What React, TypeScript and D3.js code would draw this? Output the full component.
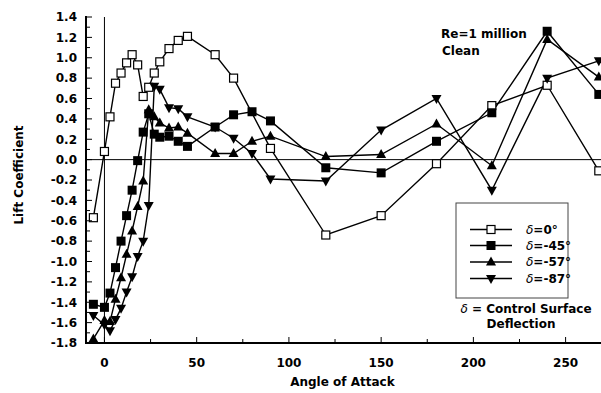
import React from "react";
import * as d3 from "d3";

const alphaA = [-6, 0, 3, 6, 9, 12, 15, 18, 21, 24, 27, 30, 35, 40, 45, 60, 70, 90, 120, 150, 180, 210, 240, 268];
const cl0 = [-0.57, 0.08, 0.42, 0.75, 0.85, 0.95, 1.03, 0.93, 0.62, 0.71, 0.85, 0.96, 1.09, 1.17, 1.21, 1.03, 0.80, 0.11, -0.74, -0.55, -0.04, 0.53, 0.73, -0.11];

const alphaB = [-6, 0, 3, 6, 9, 12, 15, 18, 21, 24, 27, 30, 35, 40, 45, 60, 70, 80, 90, 120, 150, 180, 210, 240, 268];
const cl45 = [-1.42, -1.45, -1.31, -1.06, -0.80, -0.55, -0.30, -0.01, 0.27, 0.45, 0.25, 0.22, 0.23, 0.18, 0.13, 0.32, 0.44, 0.47, 0.38, -0.08, -0.13, 0.18, 0.46, 1.26, 0.64];
const cl57 = [-1.76, -1.58, -1.59, -1.37, -1.16, -0.93, -0.70, -0.46, -0.21, 0.49, 0.42, 0.36, 0.31, 0.32, 0.26, 0.06, 0.06, 0.18, 0.23, 0.03, 0.05, 0.35, -0.06, 1.18, 0.81];
const cl87 = [-1.53, -1.62, -1.68, -1.57, -1.46, -1.30, -1.15, -0.95, -0.80, -0.45, 0.72, 0.69, 0.51, 0.50, 0.42, 0.32, 0.21, 0.06, -0.19, -0.21, 0.29, 0.60, -0.30, 0.80, 0.97];

const xTicks = [0, 50, 100, 150, 200, 250];
const yTicks = [1.4, 1.2, 1.0, 0.8, 0.6, 0.4, 0.2, 0.0, -0.2, -0.4, -0.6, -0.8, -1.0, -1.2, -1.4, -1.6, -1.8];
const legendLabels = ["δ=0°", "δ=-45°", "δ=-57°", "δ=-87°"];

type Kind = "openSquare" | "square" | "tri" | "invTri";

const series: { xs: number[]; ys: number[]; kind: Kind }[] = [
  { xs: alphaA, ys: cl0, kind: "openSquare" },
  { xs: alphaB, ys: cl45, kind: "square" },
  { xs: alphaB, ys: cl57, kind: "tri" },
  { xs: alphaB, ys: cl87, kind: "invTri" },
];

const FONT = "'DejaVu Sans', Verdana, sans-serif";
const FS = 12;

function Marker({ kind, x, y }: { kind: Kind; x: number; y: number }) {
  if (kind === "openSquare")
    return <rect x={x - 4} y={y - 4} width={8} height={8} fill="white" stroke="black" strokeWidth={1.2} />;
  if (kind === "square") return <rect x={x - 4.5} y={y - 4.5} width={9} height={9} fill="black" />;
  if (kind === "tri")
    return <path d={`M${x},${y - 5.5}L${x + 5},${y + 3.5}L${x - 5},${y + 3.5}Z`} fill="black" />;
  return <path d={`M${x},${y + 5.5}L${x + 5},${y - 3.5}L${x - 5},${y - 3.5}Z`} fill="black" />;
}

function Delta() {
  return (
    <tspan fontStyle="italic" fontWeight="normal" fontFamily="'DejaVu Sans', sans-serif" fontSize={12}>
      δ
    </tspan>
  );
}

export default function App() {
  const W = 601;
  const H = 393;
  const x = d3.scaleLinear().domain([-10, 270]).range([86, 602.5]);
  const y = d3.scaleLinear().domain([-1.8, 1.4]).range([343, 17]);
  const line = d3
    .line<[number, number]>()
    .x((d) => x(d[0]))
    .y((d) => y(d[1]));

  const minorX = d3.range(25, 270, 50);
  const minorY = d3.range(-17, 14, 2).map((v) => v / 10);

  const legX = 456;
  const legY = 203;
  const rowYs = [229.5, 245.5, 262, 278.5];

  return (
    <svg
      width={W}
      height={H}
      style={{ position: "absolute", left: 0, top: 0, background: "white" }}
      fontFamily={FONT}
    >
      <defs>
        <clipPath id="plot">
          <rect x={86} y={0} width={W - 86} height={343} />
        </clipPath>
      </defs>
      {/* reference lines */}
      <line x1={x(0)} x2={x(0)} y1={17} y2={343} stroke="black" strokeWidth={1} />
      <line x1={86} x2={W} y1={y(0)} y2={y(0)} stroke="black" strokeWidth={1} />

      {/* series */}
      <g clipPath="url(#plot)">
        {series.map((s, i) => (
          <path
            key={i}
            d={line(s.xs.map((v, j) => [v, s.ys[j]] as [number, number])) || ""}
            fill="none"
            stroke="black"
            strokeWidth={1.4}
          />
        ))}
        {series.map((s, i) =>
          s.xs.map((v, j) => <Marker key={`${i}-${j}`} kind={s.kind} x={x(v)} y={y(s.ys[j])} />)
        )}
      </g>

      {/* axes */}
      <line x1={86} x2={86} y1={16} y2={344} stroke="black" strokeWidth={2} />
      <line x1={85} x2={W} y1={343} y2={343} stroke="black" strokeWidth={2} />
      {yTicks.map((t) => (
        <g key={`y${t}`}>
          <line x1={86} x2={92} y1={y(t)} y2={y(t)} stroke="black" strokeWidth={1} />
          <text x={77} y={y(t)} dy="0.36em" textAnchor="end" fontSize={FS} fontWeight="bold">
            {t.toFixed(1)}
          </text>
        </g>
      ))}
      {minorY.map((t) => (
        <line key={`my${t}`} x1={86} x2={90} y1={y(t)} y2={y(t)} stroke="black" strokeWidth={1} />
      ))}
      {xTicks.map((t) => (
        <g key={`x${t}`}>
          <line x1={x(t)} x2={x(t)} y1={343} y2={337} stroke="black" strokeWidth={1} />
          <text x={x(t)} y={367} textAnchor="middle" fontSize={FS} fontWeight="bold">
            {t}
          </text>
        </g>
      ))}
      {minorX.map((t) => (
        <line key={`mx${t}`} x1={x(t)} x2={x(t)} y1={343} y2={339} stroke="black" strokeWidth={1} />
      ))}

      <text x={x(129)} y={386} textAnchor="middle" fontSize={FS} fontWeight="bold">
        Angle of Attack
      </text>
      <text
        transform={`translate(23,175) rotate(-90)`}
        textAnchor="middle"
        fontSize={FS}
        fontWeight="bold"
      >
        Lift Coefficient
      </text>

      <text x={441} y={38} fontSize={FS} fontWeight="bold">
        Re=1 million
      </text>
      <text x={442} y={55} fontSize={FS} fontWeight="bold">
        Clean
      </text>

      {/* legend */}
      <rect x={legX} y={legY} width={112} height={95} fill="white" stroke="#444" strokeWidth={1} />
      {legendLabels.map((lab, i) => (
        <g key={lab}>
          <line x1={470} x2={512} y1={rowYs[i]} y2={rowYs[i]} stroke="black" strokeWidth={1.4} />
          <Marker kind={series[i].kind} x={491} y={rowYs[i]} />
          <text x={526} y={rowYs[i]} dy="0.36em" fontSize={FS} fontWeight="bold">
            <Delta />
            {lab.slice(1)}
          </text>
        </g>
      ))}
      <text x={526} y={313} textAnchor="middle" fontSize={FS} fontWeight="bold">
        <Delta />
        {" = Control Surface"}
      </text>
      <text x={521} y={327.5} textAnchor="middle" fontSize={FS} fontWeight="bold">
        Deflection
      </text>
    </svg>
  );
}
